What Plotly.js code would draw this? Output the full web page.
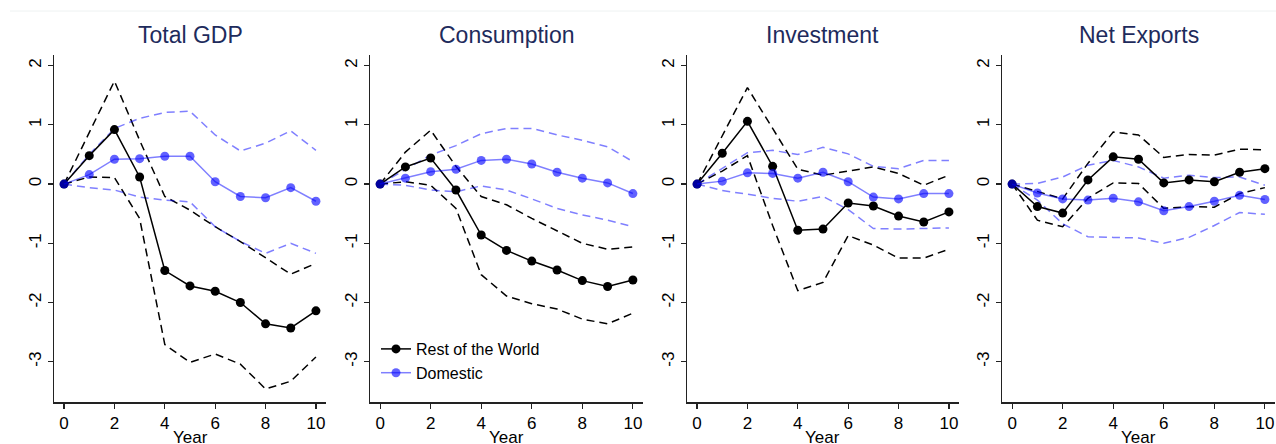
<!DOCTYPE html>
<html>
<head>
<meta charset="utf-8">
<script src="https://cdn.plot.ly/plotly-3.0.1.min.js"></script>
<style>html,body{margin:0;padding:0;background:#fff;}#chart{width:1276px;height:444px;}</style>
</head>
<body>
<div id="chart"></div>
<script>
var years = [0,1,2,3,4,5,6,7,8,9,10];
var panelTitles = ["Total GDP","Consumption","Investment","Net Exports"];
var seriesNames = ["Rest of the World","Domestic"];
var xTickVals = [0,2,4,6,8,10];
var yTickVals = [-3,-2,-1,0,1,2];
var yTickText = ["-3","-2","-1","0","1","2"];

var gdpRow   = [0,0.48,0.92,0.12,-1.46,-1.72,-1.81,-2.00,-2.36,-2.43,-2.14];
var gdpRowHi = [0,0.87,1.74,0.74,-0.21,-0.44,-0.72,-0.97,-1.25,-1.52,-1.34];
var gdpRowLo = [0,0.12,0.11,-0.58,-2.71,-3.01,-2.87,-3.04,-3.46,-3.33,-2.92];
var gdpDom   = [0,0.16,0.42,0.43,0.47,0.47,0.04,-0.21,-0.23,-0.06,-0.29];
var gdpDomHi = [0,0.50,0.94,1.11,1.21,1.23,0.83,0.56,0.69,0.90,0.57];
var gdpDomLo = [0,-0.06,-0.10,-0.22,-0.27,-0.30,-0.72,-0.97,-1.17,-1.00,-1.17];

var conRow   = [0,0.29,0.44,-0.10,-0.86,-1.12,-1.30,-1.45,-1.63,-1.73,-1.62];
var conRowHi = [0,0.54,0.91,0.30,-0.21,-0.35,-0.58,-0.79,-1.00,-1.10,-1.06];
var conRowLo = [0,0.04,-0.02,-0.41,-1.53,-1.89,-2.02,-2.11,-2.28,-2.36,-2.18];
var conDom   = [0,0.10,0.21,0.25,0.40,0.42,0.34,0.20,0.10,0.02,-0.16];
var conDomHi = [0,0.25,0.49,0.65,0.85,0.94,0.94,0.83,0.74,0.63,0.38];
var conDomLo = [0,-0.02,-0.10,-0.13,-0.03,-0.10,-0.25,-0.41,-0.52,-0.61,-0.72];

var invRow   = [0,0.52,1.06,0.30,-0.78,-0.76,-0.32,-0.37,-0.54,-0.64,-0.47];
var invRowHi = [0,0.81,1.63,0.94,0.25,0.15,0.22,0.29,0.18,-0.02,0.15];
var invRowLo = [0,0.22,0.48,-0.70,-1.80,-1.66,-0.87,-1.03,-1.25,-1.25,-1.10];
var invDom   = [0,0.05,0.19,0.18,0.10,0.20,0.04,-0.22,-0.25,-0.16,-0.16];
var invDomHi = [0,0.27,0.53,0.57,0.50,0.62,0.51,0.30,0.26,0.40,0.40];
var invDomLo = [0,-0.11,-0.17,-0.24,-0.29,-0.21,-0.43,-0.75,-0.76,-0.75,-0.74];

var nxRow   = [0,-0.38,-0.49,0.07,0.46,0.42,0.02,0.07,0.04,0.20,0.26];
var nxRowHi = [0,-0.12,-0.25,0.35,0.88,0.83,0.45,0.50,0.49,0.59,0.58];
var nxRowLo = [0,-0.61,-0.72,-0.24,0.02,0.01,-0.41,-0.38,-0.39,-0.16,-0.06];
var nxDom   = [0,-0.15,-0.25,-0.27,-0.24,-0.30,-0.45,-0.38,-0.29,-0.19,-0.26];
var nxDomHi = [0,0.01,0.12,0.32,0.40,0.29,0.10,0.15,0.11,0.12,-0.02];
var nxDomLo = [0,-0.27,-0.67,-0.89,-0.90,-0.91,-1.00,-0.90,-0.70,-0.48,-0.51];

var panels = [
  {row: gdpRow, rowHi: gdpRowHi, rowLo: gdpRowLo, dom: gdpDom, domHi: gdpDomHi, domLo: gdpDomLo},
  {row: conRow, rowHi: conRowHi, rowLo: conRowLo, dom: conDom, domHi: conDomHi, domLo: conDomLo},
  {row: invRow, rowHi: invRowHi, rowLo: invRowLo, dom: invDom, domHi: invDomHi, domLo: invDomLo},
  {row: nxRow, rowHi: nxRowHi, rowLo: nxRowLo, dom: nxDom, domHi: nxDomHi, domLo: nxDomLo}
];

var W = 1276, H = 444;
var xDomPx = [[54,326],[370,643],[687,959],[1002,1275]];
var yDom = [(H-402)/H, (H-55)/H];
var BLACK = '#000000';
var BLUE_LINE = 'rgba(0,0,255,0.5)';
var BLUE_MARK = 'rgba(0,0,255,0.62)';
var FONT = 'Liberation Sans, Arial, sans-serif';

var data = [];
var layout = {
  width: W, height: H,
  margin: {l:0, r:0, t:0, b:0, autoexpand:false},
  paper_bgcolor: '#ffffff', plot_bgcolor: '#ffffff',
  showlegend: true,
  legend: {x: 376/W, y: (H-332)/H, xanchor:'left', yanchor:'top', bgcolor:'rgba(0,0,0,0)',
           font:{family:FONT, size:16, color:'#000'}, tracegroupgap:0},
  annotations: [],
  shapes: [{type:'line', xref:'paper', yref:'paper', x0:10/W, x1:1, y0:(H-11)/H, y1:(H-11)/H,
            line:{color:'#eef2f2', width:1}}]
};

panels.forEach(function(p, i){
  var n = i + 1;
  var xa = 'x' + (n === 1 ? '' : n), ya = 'y' + (n === 1 ? '' : n);
  var dashB = {color: BLACK, width: 1.5, dash: '8px,5px'};
  var dashU = {color: BLUE_LINE, width: 1.5, dash: '8px,5px'};
  data.push({x: years, y: p.rowHi, xaxis: xa, yaxis: ya, mode:'lines', line: dashB, showlegend:false, hoverinfo:'skip'});
  data.push({x: years, y: p.rowLo, xaxis: xa, yaxis: ya, mode:'lines', line: dashB, showlegend:false, hoverinfo:'skip'});
  data.push({x: years, y: p.domHi, xaxis: xa, yaxis: ya, mode:'lines', line: dashU, showlegend:false, hoverinfo:'skip'});
  data.push({x: years, y: p.domLo, xaxis: xa, yaxis: ya, mode:'lines', line: dashU, showlegend:false, hoverinfo:'skip'});
  data.push({x: years, y: p.row, xaxis: xa, yaxis: ya, mode:'lines+markers', name: seriesNames[0],
             line:{color: BLACK, width: 1.5}, marker:{color: BLACK, size: 9},
             showlegend: i === 0, legendrank: 1});
  data.push({x: years, y: p.dom, xaxis: xa, yaxis: ya, mode:'lines+markers', name: seriesNames[1],
             line:{color: BLUE_LINE, width: 1.5}, marker:{color: BLUE_MARK, size: 9},
             showlegend: i === 0, legendrank: 2});

  var d = [xDomPx[i][0]/W, xDomPx[i][1]/W];
  layout['xaxis' + (n === 1 ? '' : n)] = {
    domain: d, anchor: ya, range: [-0.4, 10.4], showgrid:false, zeroline:false,
    showline:true, linecolor:'#222', linewidth:1.5, mirror:false,
    ticks:'outside', ticklen:5, tickwidth:1.2, tickcolor:'#222',
    tickvals: xTickVals, tickfont:{family:FONT, size:17, color:'#000'}, automargin:false
  };
  layout['yaxis' + (n === 1 ? '' : n)] = {
    domain: yDom, anchor: xa, range: [-3.68, 2.18], showgrid:false, zeroline:false,
    showline:true, linecolor:'#222', linewidth:1.5, mirror:false,
    ticks:'outside', ticklen:5, tickwidth:1.2, tickcolor:'#222',
    tickvals: yTickVals, ticktext: yTickText, tickangle:-90,
    tickfont:{family:FONT, size:17, color:'#000'}, automargin:false
  };
  var cx = (d[0] + d[1]) / 2;
  layout.annotations.push({text: panelTitles[i], xref:'paper', yref:'paper', x: cx, y: (H-35)/H,
    xanchor:'center', yanchor:'middle', showarrow:false, font:{family:FONT, size:23, color:'#1e2b5c'}});
  layout.annotations.push({text: 'Year', xref:'paper', yref:'paper', x: cx, y: (H-437)/H,
    xanchor:'center', yanchor:'middle', showarrow:false, font:{family:FONT, size:17, color:'#000'}});
});

Plotly.newPlot('chart', data, layout, {displayModeBar:false, staticPlot:true});
</script>
</body>
</html>
